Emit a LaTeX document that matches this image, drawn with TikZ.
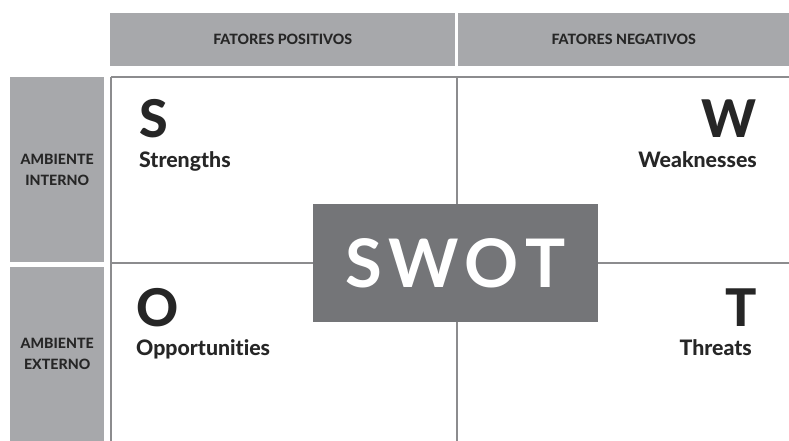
\documentclass[tikz,border=0pt]{standalone}
\usepackage{fontspec}
\setmainfont{Lato}[Ligatures={NoCommon}]
\newfontfamily\latoheavy{Lato Heavy}[Ligatures={NoCommon}]
\usetikzlibrary{positioning}
\definecolor{hdrgray}{HTML}{A7A8AB}
\definecolor{boxgray}{HTML}{747578}
\definecolor{linegray}{HTML}{8C8C8E}
\definecolor{inkdark}{HTML}{262626}
\tikzset{
  hdr/.style={fill=hdrgray,inner sep=0pt,text=inkdark,align=center,
    font=\latoheavy\fontsize{14.2}{21}\selectfont},
  letter/.style={inner sep=0pt,text=inkdark,font=\latoheavy\fontsize{52}{52}\selectfont},
  word/.style={inner sep=0pt,text=inkdark,font=\latoheavy\fontsize{21.3}{24}\selectfont},
  grid/.style={draw=linegray,line width=1.5pt},
}

\begin{document}
\begin{tikzpicture}[x=1pt,y=-1pt]
  \useasboundingbox (0,0) rectangle (789,441);
  % column headers
  \node[hdr,minimum width=345pt,minimum height=53pt,anchor=north west] (pos) at (110,13) {FATORES POSITIVOS};
  \node[hdr,minimum width=331pt,minimum height=53pt,anchor=north west] (neg) at (458,13) {FATORES NEGATIVOS};
  % row headers
  \node[hdr,minimum width=94pt,minimum height=185pt,anchor=north west] (int) at (10,77) {AMBIENTE\\INTERNO};
  \node[hdr,minimum width=94pt,minimum height=174pt,anchor=north west] (ext) at (10,267) {AMBIENTE\\EXTERNO};
  % the four quadrants
  \draw[grid] (111,77) -- (789,77);
  \draw[grid] (111,77) -- (111,441);
  \draw[grid] (457,77) -- (457,441);
  \draw[grid] (111,263) -- (789,263);
  % S W O T
  \node[letter,anchor=base west] (s) at (139,138) {S};
  \node[word,anchor=base west] (strengths) at (139,167) {Strengths};
  \node[letter,anchor=base east] (w) at (757,138) {W};
  \node[word,anchor=base east] (weaknesses) at (757,167) {Weaknesses};
  \node[letter,anchor=base west] (o) at (136,326) {O};
  \node[word,anchor=base west] (opportunities) at (136,355) {Opportunities};
  \node[letter,anchor=base east] (t) at (757,326) {T};
  \node[word,anchor=base east] (threats) at (752,355) {Threats};
  % centre box
  \node[fill=boxgray,minimum width=285pt,minimum height=118pt,inner sep=0pt,text=white,
    font=\bfseries\fontsize{67}{67}\selectfont] (swot) at (455.5,263)
    {\raisebox{-3pt}{S\hspace{6pt}W\hspace{6pt}O\hspace{6pt}T}};
\end{tikzpicture}
\end{document}
